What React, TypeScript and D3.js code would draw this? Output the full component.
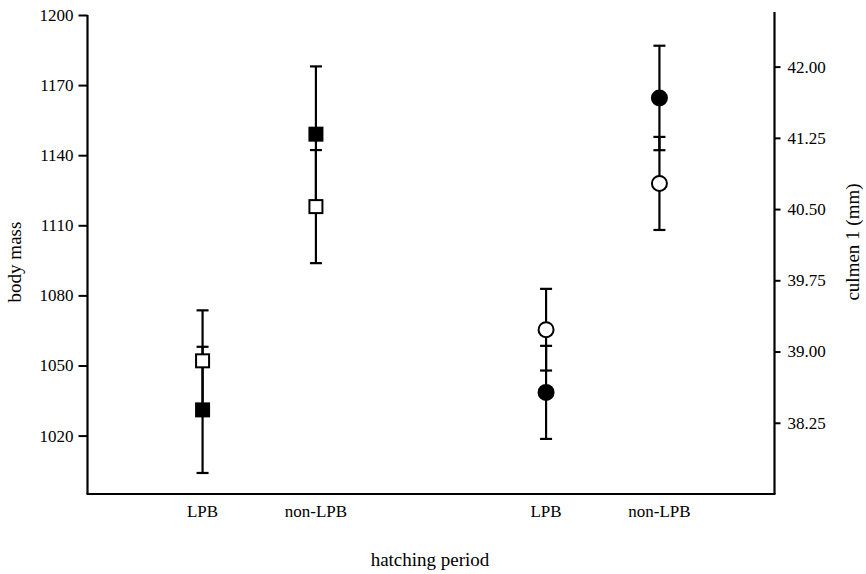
import React, { useRef, useEffect } from 'react';
import * as d3 from 'd3';

// hatching periods, repeated for each measurement block
const periods = ['LPB', 'non-LPB'];
const measures = ['mass', 'culmen'];

// filled markers
const massFilled = [1031, 1149];
const massFilledErr = [27, 29];
const culmenFilled = [38.57, 41.67];
const culmenFilledErr = [0.49, 0.55];

// open markers
const massOpen = [1052, 1118];
const massOpenErr = [21.6, 24.2];
const culmenOpen = [39.23, 40.77];
const culmenOpenErr = [0.43, 0.49];

const massTicks = [1020, 1050, 1080, 1110, 1140, 1170, 1200];
const culmenTicks = [38.25, 39.0, 39.75, 40.5, 41.25, 42.0];

const FONT = '"Liberation Serif", "DejaVu Serif", serif';

const App = () => {
  const svgRef = useRef<SVGSVGElement>(null);

  useEffect(() => {
    const width = 866;
    const height = 574;
    const left = 87.5;
    const right = 774.5;
    const bottom = 494;

    const svg = d3.select(svgRef.current);
    svg.selectAll('*').remove();

    const outer = d3.scaleBand().domain(measures).range([left, right]).paddingInner(0.34).paddingOuter(0.17);
    const inner = d3.scalePoint().domain(periods).range([0, outer.bandwidth()]).padding(0.5);

    const yMass = d3.scaleLinear().domain([995, 1200]).range([bottom, 15]);
    const yCulmen = d3.scaleLinear().domain([37.5, 42.575]).range([bottom, 12]);

    // left axis
    const gl = svg.append('g').attr('transform', `translate(${left},0)`)
      .call(d3.axisLeft(yMass).tickValues(massTicks).tickSize(9).tickPadding(5).tickFormat(d3.format('d')).tickSizeOuter(0));
    gl.select('.domain').remove();
    gl.append('line').attr('y1', yMass(1200)).attr('y2', bottom).attr('stroke', '#000').attr('stroke-width', 2.2);

    // right axis
    const gr = svg.append('g').attr('transform', `translate(${right},0)`)
      .call(d3.axisRight(yCulmen).tickValues(culmenTicks).tickSize(6).tickPadding(7).tickFormat(d3.format('.2f')).tickSizeOuter(0));
    gr.select('.domain').remove();
    gr.append('line').attr('y1', 12).attr('y2', bottom).attr('stroke', '#000').attr('stroke-width', 2.2);

    [gl, gr].forEach((g) => {
      g.attr('font-family', FONT).attr('font-size', 17);
      g.selectAll('.tick line').attr('stroke', '#000').attr('stroke-width', 2);
      g.selectAll('.tick text').attr('fill', '#000');
    });

    // bottom axis line
    svg.append('line').attr('x1', left - 1).attr('x2', right + 1).attr('y1', bottom).attr('y2', bottom)
      .attr('stroke', '#000').attr('stroke-width', 2.2);

    const xOf = (m: string, p: string) => (outer(m) || 0) + (inner(p) || 0);

    // x labels
    measures.forEach((m) => {
      periods.forEach((p) => {
        svg.append('text')
          .attr('x', xOf(m, p))
          .attr('y', 517)
          .attr('text-anchor', 'middle')
          .attr('font-family', FONT).attr('font-size', 17)
          .text(p);
      });
    });

    const series = [
      { measure: 'mass', y: yMass, vals: massFilled, errs: massFilledErr, filled: true },
      { measure: 'mass', y: yMass, vals: massOpen, errs: massOpenErr, filled: false },
      { measure: 'culmen', y: yCulmen, vals: culmenFilled, errs: culmenFilledErr, filled: true },
      { measure: 'culmen', y: yCulmen, vals: culmenOpen, errs: culmenOpenErr, filled: false },
    ];

    // error bars
    series.forEach((s) => {
      periods.forEach((p, i) => {
        const x = xOf(s.measure, p);
        const y1 = s.y(s.vals[i] + s.errs[i]);
        const y0 = s.y(s.vals[i] - s.errs[i]);
        const g = svg.append('g').attr('stroke', '#000').attr('stroke-width', 2.2);
        g.append('line').attr('x1', x).attr('x2', x).attr('y1', y1).attr('y2', y0);
        g.append('line').attr('x1', x - 6).attr('x2', x + 6).attr('y1', y1).attr('y2', y1);
        g.append('line').attr('x1', x - 6).attr('x2', x + 6).attr('y1', y0).attr('y2', y0);
      });
    });

    // markers
    series.forEach((s) => {
      periods.forEach((p, i) => {
        const x = xOf(s.measure, p);
        const y = s.y(s.vals[i]);
        if (s.measure === 'mass') {
          svg.append('rect').attr('x', x - 6.5).attr('y', y - 6.5).attr('width', 13).attr('height', 13)
            .attr('fill', s.filled ? '#000' : '#fff').attr('stroke', '#000').attr('stroke-width', 2);
        } else {
          svg.append('circle').attr('cx', x).attr('cy', y).attr('r', 7.5)
            .attr('fill', s.filled ? '#000' : '#fff').attr('stroke', '#000').attr('stroke-width', 2);
        }
      });
    });

    // axis titles
    svg.append('text').attr('transform', `translate(21,262) rotate(-90)`)
      .attr('text-anchor', 'middle').attr('font-family', FONT).attr('font-size', 19).text('body mass');
    svg.append('text').attr('transform', `translate(859,242) rotate(-90)`)
      .attr('text-anchor', 'middle').attr('font-family', FONT).attr('font-size', 19).text('culmen 1 (mm)');
    svg.append('text').attr('x', 430).attr('y', 566)
      .attr('text-anchor', 'middle').attr('font-family', FONT).attr('font-size', 19).text('hatching period');

    svg.attr('width', width).attr('height', height);
  }, []);

  return (
    <svg ref={svgRef} width={866} height={574}
      style={{ position: 'absolute', left: 0, top: 0, background: '#fff' }} />
  );
};

export default App;
